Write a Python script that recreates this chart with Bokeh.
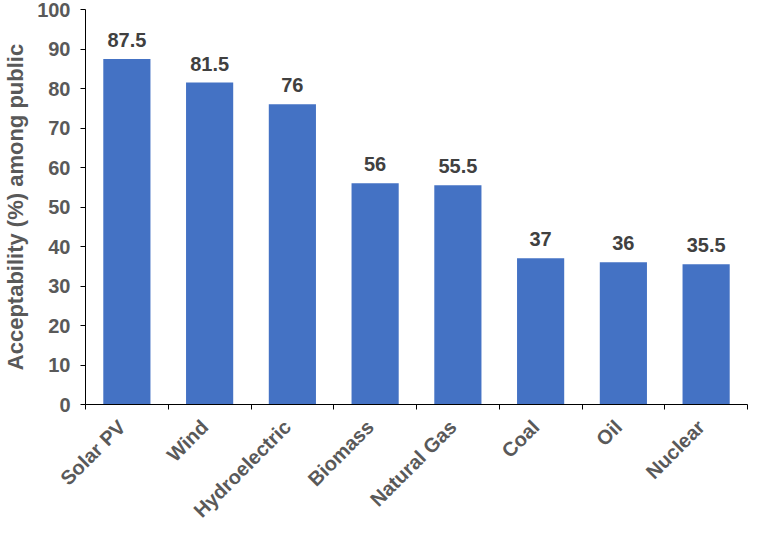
from math import pi
from bokeh.plotting import figure
from bokeh.models import (ColumnDataSource, Range1d, FixedTicker, LabelSet, LinearAxis)
from bokeh.core.properties import value
from bokeh.embed import file_html
from bokeh.resources import INLINE

categories = ["Solar PV", "Wind", "Hydroelectric", "Biomass", "Natural Gas", "Coal", "Oil", "Nuclear"]
values = [87.5, 81.5, 76, 56, 55.5, 37, 36, 35.5]
value_labels = ["87.5", "81.5", "76", "56", "55.5", "37", "36", "35.5"]
y_ticks = [0, 10, 20, 30, 40, 50, 60, 70, 80, 90, 100]

n = len(categories)
centers = [i + 0.5 for i in range(n)]
bounds = list(range(n + 1))
label_shift = 0.06  # rotated labels end just left of the bar centre

src = ColumnDataSource(dict(x=centers, val=values, lab=value_labels))

FONT = "Liberation Sans"
p = figure(x_range=Range1d(0, n), y_range=Range1d(0, 100),
           width=749, height=532, output_backend="svg", toolbar_location=None,
           min_border_left=84, min_border_right=2, min_border_top=9, min_border_bottom=0)

p.vbar(x="x", top="val", width=0.57, source=src, fill_color="#4472C4", line_color=None)

labels = LabelSet(x="x", y="val", text="lab", source=src, text_align="center",
                  text_baseline="bottom", y_offset=12, text_font=value(FONT),
                  text_font_style="bold", text_font_size="20px", text_color="#404040")
p.add_layout(labels)

p.xgrid.visible = False
p.ygrid.visible = False
p.outline_line_color = None

p.yaxis.ticker = FixedTicker(ticks=y_ticks)
p.yaxis.minor_tick_line_color = None
p.yaxis.axis_label = "Acceptability (%) among public"
p.yaxis.axis_label_text_font = FONT
p.yaxis.axis_label_text_font_style = "bold"
p.yaxis.axis_label_text_font_size = "22px"
p.yaxis.axis_label_text_color = "#595959"
p.yaxis.axis_label_standoff = 6
p.yaxis.major_label_text_font = FONT
p.yaxis.major_label_text_font_style = "bold"
p.yaxis.major_label_text_font_size = "20px"
p.yaxis.major_label_text_color = "#595959"
p.yaxis.major_label_standoff = 10

# x axis: tick marks at category boundaries, no labels
xa = p.xaxis[0]
xa.ticker = FixedTicker(ticks=bounds)
xa.minor_tick_line_color = None
xa.major_label_overrides = {b: "" for b in bounds}
xa.major_label_standoff = 0
xa.major_label_text_font_size = "1px"

# second axis carrying the category names at the bar centres
label_pos = [c - label_shift for c in centers]
lab_axis = LinearAxis(ticker=FixedTicker(ticks=label_pos),
                      major_label_overrides={c: name for c, name in zip(label_pos, categories)},
                      axis_line_color=None, major_tick_line_color=None,
                      minor_tick_line_color=None)
lab_axis.major_label_orientation = pi / 4
lab_axis.major_label_text_font = FONT
lab_axis.major_label_text_font_style = "bold"
lab_axis.major_label_text_font_size = "20px"
lab_axis.major_label_text_color = "#595959"
lab_axis.major_label_standoff = 8
p.add_layout(lab_axis, "below")

for ax in (p.xaxis[0], p.yaxis[0]):
    ax.axis_line_color = "black"
    ax.major_tick_line_color = "black"
    ax.major_tick_out = 5
    ax.major_tick_in = 0

open("out.html", "w").write(file_html(p, INLINE))
